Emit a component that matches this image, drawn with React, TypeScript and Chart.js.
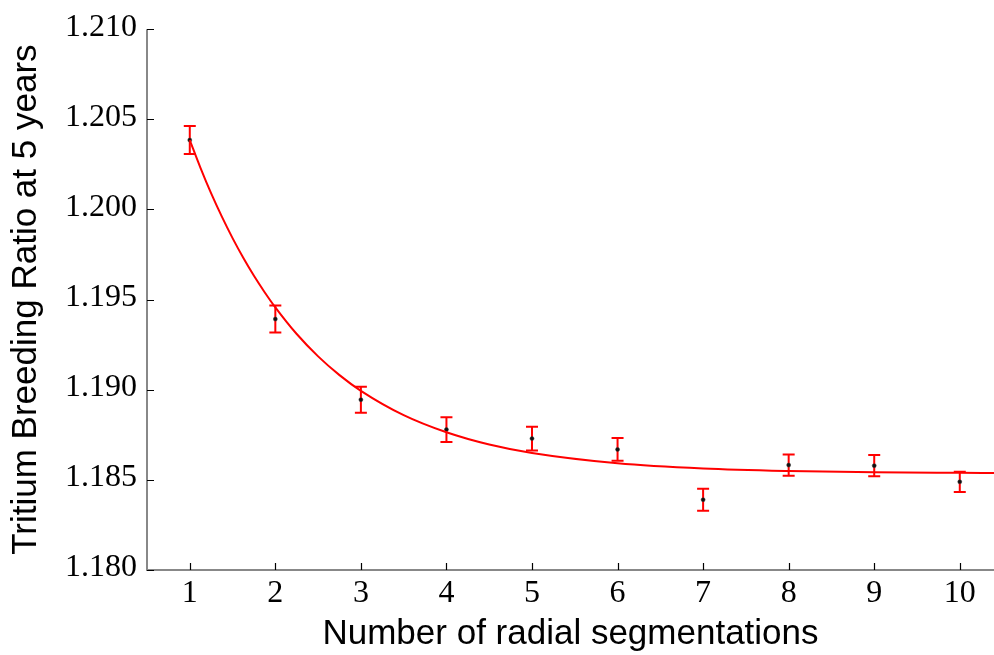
import React, { useEffect, useRef } from "react";
import { Chart, registerables } from "chart.js";

Chart.register(...registerables);

const segments = [1, 2, 3, 4, 5, 6, 7, 8, 9, 10];
const tbr = [1.20385, 1.19392, 1.18945, 1.18779, 1.18729, 1.18669, 1.1839, 1.18582, 1.18579, 1.18489];
const tbrErr = [0.00078, 0.00075, 0.00072, 0.00069, 0.00066, 0.00063, 0.00061, 0.00059, 0.00059, 0.00056];

const fitX = [1, 1.125, 1.25, 1.375, 1.5, 1.625, 1.75, 1.875, 2, 2.25, 2.5, 2.75, 3, 3.5, 4, 4.5, 5, 6, 7, 8, 9, 10, 10.4];
const fitY = [
  1.20385, 1.20231, 1.20089, 1.1996, 1.19841, 1.19732, 1.19632, 1.19541, 1.19457, 1.19309, 1.19185, 1.19081,
  1.18994, 1.18859, 1.18764, 1.18696, 1.18649, 1.18592, 1.18563, 1.18549, 1.18542, 1.18539, 1.18538,
];

const xTicks = [1, 2, 3, 4, 5, 6, 7, 8, 9, 10];
const yTicks = [1.18, 1.185, 1.19, 1.195, 1.2, 1.205, 1.21];

const SERIF = "'Liberation Serif', 'DejaVu Serif', serif";
const SANS = "'Liberation Sans', Arial, sans-serif";

const decorPlugin = {
  id: "decor",
  beforeDatasetsDraw(chart: any) {
    const { ctx, scales } = chart;
    const xs = scales.x;
    const ys = scales.y;
    ctx.save();
    ctx.strokeStyle = "#ff0000";
    ctx.lineWidth = 2;
    segments.forEach((s, i) => {
      const px = xs.getPixelForValue(s);
      const top = ys.getPixelForValue(tbr[i] + tbrErr[i]);
      const bot = ys.getPixelForValue(tbr[i] - tbrErr[i]);
      ctx.beginPath();
      ctx.moveTo(px, top);
      ctx.lineTo(px, bot);
      ctx.moveTo(px - 6, top);
      ctx.lineTo(px + 6, top);
      ctx.moveTo(px - 6, bot);
      ctx.lineTo(px + 6, bot);
      ctx.stroke();
    });
    ctx.restore();
  },
  afterDraw(chart: any) {
    const { ctx, scales, chartArea } = chart;
    const xs = scales.x;
    const ys = scales.y;
    ctx.save();
    ctx.strokeStyle = "#888888";
    ctx.lineWidth = 2;
    ctx.beginPath();
    ctx.moveTo(chartArea.left, chartArea.top);
    ctx.lineTo(chartArea.left, chartArea.bottom);
    ctx.lineTo(chartArea.right, chartArea.bottom);
    ctx.stroke();
    ctx.strokeStyle = "#000000";
    ctx.lineWidth = 1.2;
    ctx.beginPath();
    xTicks.forEach((v) => {
      const px = Math.round(xs.getPixelForValue(v)) + 0.5;
      ctx.moveTo(px, chartArea.bottom);
      ctx.lineTo(px, chartArea.bottom - 7);
    });
    yTicks.forEach((v) => {
      const py = Math.round(ys.getPixelForValue(v)) + 0.5;
      ctx.moveTo(chartArea.left, py);
      ctx.lineTo(chartArea.left + 7, py);
    });
    ctx.stroke();
    ctx.restore();
  },
};

export default function App() {
  const ref = useRef<HTMLCanvasElement | null>(null);
  useEffect(() => {
    if (!ref.current) return;
    const chart = new Chart(ref.current, {
      type: "scatter",
      data: {
        datasets: [
          {
            type: "line",
            data: fitX.map((x, i) => ({ x, y: fitY[i] })),
            borderColor: "#ff0000",
            borderWidth: 2,
            pointRadius: 0,
            cubicInterpolationMode: "monotone",
            fill: false,
          } as any,
          {
            data: segments.map((x, i) => ({ x, y: tbr[i] })),
            pointRadius: 2,
            pointBackgroundColor: "#111111",
            pointBorderColor: "#333333",
            pointBorderWidth: 0.5,
          },
        ],
      },
      options: {
        animation: false,
        responsive: false,
        maintainAspectRatio: false,
        layout: { autoPadding: false, padding: { top: 24, right: 0, left: 0, bottom: 0 } },
        plugins: { legend: { display: false }, tooltip: { enabled: false } },
        scales: {
          x: {
            type: "linear",
            min: 0.5,
            max: 10.4,
            afterBuildTicks: (axis: any) => {
              axis.ticks = xTicks.map((v) => ({ value: v }));
            },
            afterFit: (axis: any) => {
              axis.height = 85;
              axis.paddingRight = 0;
              axis.paddingLeft = 0;
            },
            grid: { display: false, drawTicks: false },
            border: { display: false },
            ticks: {
              padding: 4,
              color: "#000",
              font: { family: SERIF, size: 32 },
              callback: (v: any) => String(v),
            },
            title: {
              display: true,
              text: "Number of radial segmentations",
              color: "#000",
              font: { family: SANS, size: 35 },
              padding: { top: 0, bottom: 0 },
            },
          },
          y: {
            type: "linear",
            min: 1.18,
            max: 1.21,
            afterBuildTicks: (axis: any) => {
              axis.ticks = yTicks.map((v) => ({ value: v }));
            },
            afterFit: (axis: any) => {
              axis.width = 147;
            },
            grid: { display: false, drawTicks: false },
            border: { display: false },
            ticks: {
              padding: 10,
              labelOffset: -2,
              color: "#000",
              font: { family: SERIF, size: 32 },
              callback: (v: any) => Number(v).toFixed(3),
            },
            title: {
              display: true,
              text: "Tritium Breeding Ratio at 5 years",
              color: "#000",
              font: { family: SANS, size: 35 },
              padding: { top: 5, bottom: 0 },
            },
          },
        },
      },
      plugins: [decorPlugin],
    });
    return () => chart.destroy();
  }, []);
  return (
    <div style={{ position: "fixed", left: 0, top: 0, width: 994, height: 655, background: "#fff" }}>
      <canvas ref={ref} width={994} height={655} style={{ display: "block" }} />
    </div>
  );
}
